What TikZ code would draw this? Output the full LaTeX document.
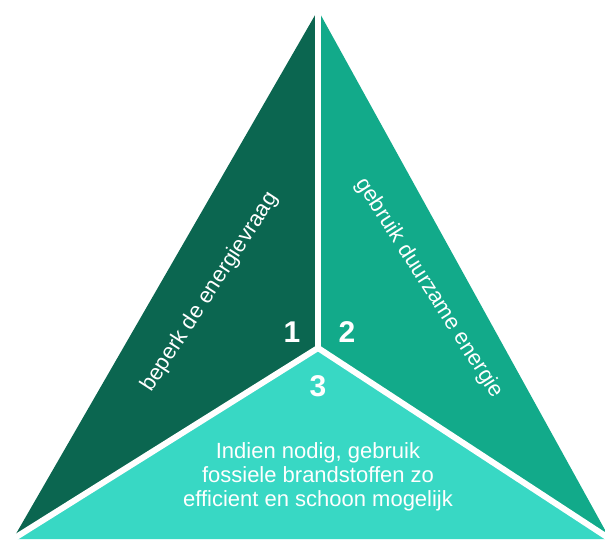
\documentclass[tikz,border=0pt]{standalone}
\usepackage{fontspec}
\setmainfont{Liberation Sans}
\usepackage{tikz}
\usetikzlibrary{calc}

\definecolor{darkgreen}{HTML}{0B6650}
\definecolor{midgreen}{HTML}{12AA8A}
\definecolor{lightgreen}{HTML}{38D8C4}

\begin{document}
\begin{tikzpicture}[x=1pt,y=-1pt,
    lbl/.style={text=white, font=\fontsize{22}{24}\selectfont, align=center, inner sep=0pt},
    num/.style={text=white, font=\fontsize{30}{30}\selectfont\bfseries, inner sep=0pt},
    gap/.style={white, line width=6pt}]
    \useasboundingbox (0,0) rectangle (605,539);
    \clip (0,0) rectangle (605,539);
    % corners of the triangle
    \coordinate (apex) at (318,10);
    \coordinate (mid) at (318,348);
    \coordinate (left) at (13,539);
    \coordinate (right) at (610,539);
    \fill[darkgreen] (apex) -- (mid) -- (left) -- cycle;
    \fill[midgreen] (apex) -- (mid) -- (right) -- cycle;
    \fill[lightgreen] (mid) -- (left) -- (right) -- cycle;
    \draw[gap, shorten >=-10pt] (mid) -- (apex);
    \draw[gap, shorten >=-6pt] (mid) -- (left);
    \draw[gap, shorten >=-6pt] (mid) -- (right);
    % numbers
    \node[num] (num1) at (292,332) {1};
    \node[num] (num2) at (347,332) {2};
    \node[num] (num3) at (318,386) {3};
    % texts
    \node[lbl, rotate=57] (demand) at (210,292) {beperk de energievraag};
    \node[lbl, rotate=-57.5] (renewable) at (429,288) {gebruik duurzame energie};
    \node[lbl] (fossil) at (318,477) {Indien nodig, gebruik\\fossiele brandstoffen zo\\efficient en schoon mogelijk};
\end{tikzpicture}
\end{document}
